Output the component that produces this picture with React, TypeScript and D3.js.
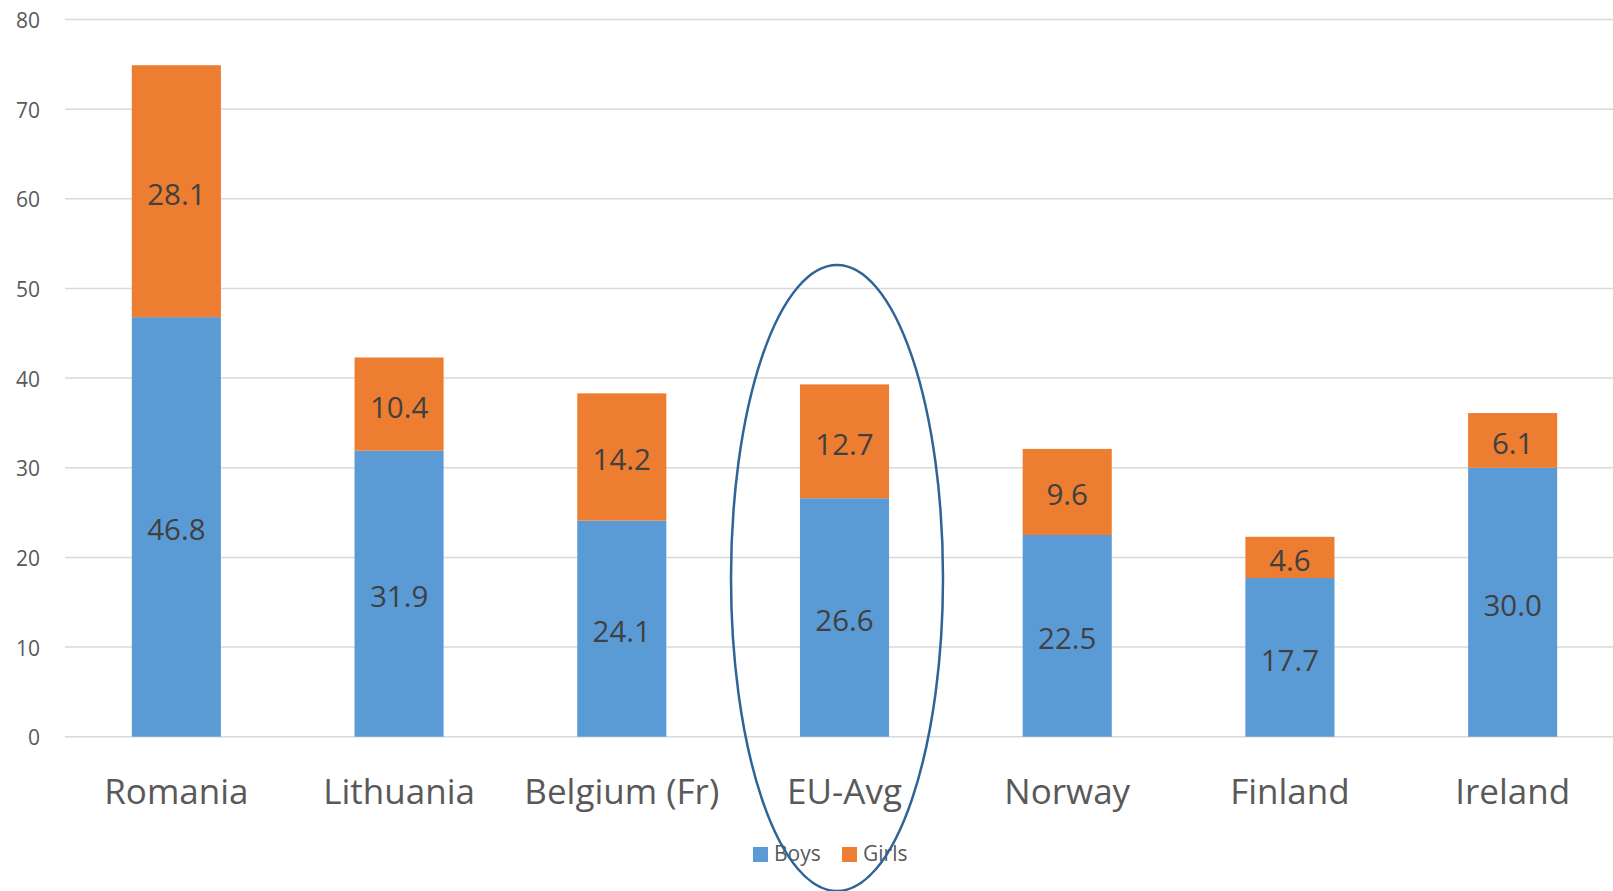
import React from "react";
import * as d3 from "d3";

const categories = ["Romania", "Lithuania", "Belgium (Fr)", "EU-Avg", "Norway", "Finland", "Ireland"];
const boys = [46.8, 31.9, 24.1, 26.6, 22.5, 17.7, 30.0];
const girls = [28.1, 10.4, 14.2, 12.7, 9.6, 4.6, 6.1];
const seriesNames = ["Boys", "Girls"];
const seriesColors = ["#5B9BD5", "#ED7D31"];
const yTicks = [0, 10, 20, 30, 40, 50, 60, 70, 80];

const W = 1613;
const H = 891;
const FONT = "'Open Sans', sans-serif";

export default function App() {
  const x = d3.scaleBand<string>().domain(categories).range([65, 1624]).paddingInner(0.6).paddingOuter(0.3);
  const y = d3.scaleLinear().domain([0, 80]).range([736.7, 19.5]);
  const rows = categories.map((c, i) => ({ cat: c, Boys: boys[i], Girls: girls[i] }));
  const stack = d3.stack<any>().keys(seriesNames)(rows);
  const eu = categories[3];
  const euCx = (x(eu) as number) + x.bandwidth() / 2;

  return (
    <svg width={W} height={H} style={{ position: "absolute", left: 0, top: 0, background: "#fff" }}>
      {yTicks.map((t) => (
        <g key={t}>
          <line x1={65} x2={W} y1={y(t)} y2={y(t)} stroke="#D9D9D9" strokeWidth={1.5} />
          <text x={40} y={y(t) + 8.5} textAnchor="end" fontFamily={FONT} fontSize={21} fill="#595959">
            {t}
          </text>
        </g>
      ))}
      {stack.map((s, si) =>
        s.map((d, i) => (
          <rect
            key={si + "-" + i}
            x={x(categories[i])}
            width={x.bandwidth()}
            y={y(d[1])}
            height={y(d[0]) - y(d[1])}
            fill={seriesColors[si]}
          />
        ))
      )}
      {stack.map((s, si) =>
        s.map((d, i) => (
          <text
            key={"l" + si + "-" + i}
            x={(x(categories[i]) as number) + x.bandwidth() / 2}
            y={y((d[0] + d[1]) / 2) + 2}
            textAnchor="middle"
            dominantBaseline="central"
            fontFamily={FONT}
            fontSize={29.5}
            fill="#404040"
          >
            {(d[1] - d[0]).toFixed(1)}
          </text>
        ))
      )}
      {categories.map((c) => (
        <text
          key={c}
          x={(x(c) as number) + x.bandwidth() / 2}
          y={804}
          textAnchor="middle"
          fontFamily={FONT}
          fontSize={35}
          fill="#595959"
        >
          {c}
        </text>
      ))}
      <g>
        {seriesNames.map((n, i) => {
          const lx = [753, 842][i];
          return (
            <g key={n}>
              <rect x={lx} y={847} width={15} height={15} fill={seriesColors[i]} />
              <text x={lx + 21} y={861} fontFamily={FONT} fontSize={21} fill="#595959">
                {n}
              </text>
            </g>
          );
        })}
      </g>
      <ellipse cx={euCx - 7.5} cy={578} rx={106} ry={313} fill="none" stroke="#2F6496" strokeWidth={2.5} />
    </svg>
  );
}
